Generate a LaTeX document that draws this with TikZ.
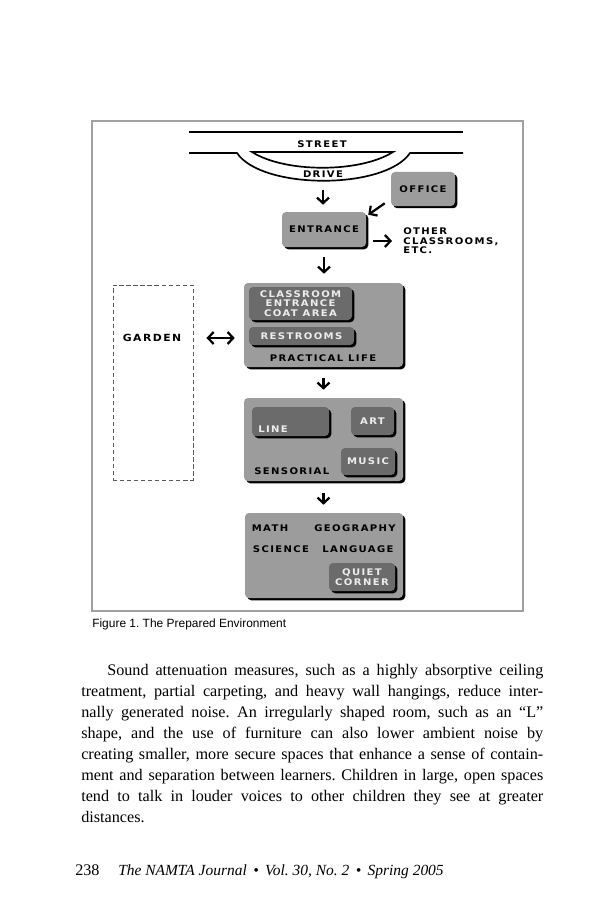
\documentclass[tikz,border=0pt]{standalone}
\usepackage{fontspec}
\usetikzlibrary{arrows.meta,shadows}
\newfontfamily\planfont[LetterSpace=15,FakeStretch=1.1]{DejaVu Sans}
\newfontfamily\capfont{Liberation Sans}
\newfontfamily\bodyfont{Liberation Serif}
\definecolor{roomgray}{HTML}{9C9C9C}
\definecolor{nookgray}{HTML}{6B6B6B}
\definecolor{nooktext}{HTML}{EDEDED}
\definecolor{framegray}{HTML}{A0A0A0}

\tikzset{
	plan/.style={font=\planfont\bfseries\fontsize{6.5pt}{6.8pt}\selectfont, inner sep=0pt, align=center},
	room/.style={plan, fill=roomgray, rounded corners=1mm,
		drop shadow={shadow xshift=1.6pt, shadow yshift=-1.6pt, opacity=1, fill=black}},
	nook/.style={room, fill=nookgray, text=nooktext},
	boxsize/.style 2 args={minimum width=#1*0.25mm, minimum height=#2*0.25mm},
	walk/.style={line width=1.6pt, -{Straight Barb[length=1.4mm, width=3mm]}},
	bothways/.style={line width=1.6pt, {Straight Barb[length=1.4mm, width=3mm]}-{Straight Barb[length=1.4mm, width=3mm]}},
	prose/.style={font=\bodyfont\fontsize{11.5pt}{14pt}\selectfont, anchor=base west, inner sep=0pt},
}

\begin{document}
\frenchspacing
\begin{tikzpicture}[x=0.25mm, y=-0.25mm]
	\fill[white] (0,0) rectangle (600,900);
	\useasboundingbox (0,0) rectangle (600,900);
	\draw[framegray, line width=1pt] (92,121) rectangle (523,611);

	% street and drive
	\draw[line width=1.2pt] (189,132) -- (463,132);
	\draw[line width=1.2pt] (189,153) -- (237,153) .. controls (262,190) and (385,190) .. (410,153) -- (463,153);
	\draw[line width=1.2pt] (252,152) .. controls (285,173) and (360,173) .. (393,152) -- cycle;
	\node[plan] (street) at (322,144) {STREET};
	\node[plan] (drive) at (323,174) {DRIVE};

	\node[room, boxsize={64}{34}] (office) at (423,189) {OFFICE};
	\node[room, boxsize={84}{35}] (entrance) at (324,229.5) {ENTRANCE};
	\node[plan, align=left, anchor=west] (other) at (403,241) {OTHER\\CLASSROOMS,\\ETC.};

	\node[draw=black!65, line width=0.7pt, dash pattern=on 3pt off 2pt, boxsize={80}{195}] (garden) at (153,382.5) {};
	\node[plan, font=\planfont\bfseries\fontsize{7pt}{7pt}\selectfont] (gardenname) at (152,338) {GARDEN};

	\node[room, boxsize={159}{84}] (practical) at (323.5,325) {};
	\node[nook, boxsize={103}{33}] (coat) at (300.5,303.5) {CLASSROOM\\ENTRANCE\\COAT AREA};
	\node[nook, boxsize={105}{18}] (restrooms) at (301.5,336) {RESTROOMS};
	\node[plan] (practicalname) at (323,358) {PRACTICAL LIFE};

	\node[room, boxsize={159}{83}] (sensorial) at (323.5,439.5) {};
	\node[nook, boxsize={77}{29}] (line) at (290.5,421.5) {};
	\node[plan, text=nooktext, anchor=west] (linename) at (258,429) {LINE};
	\node[nook, boxsize={43}{28}] (art) at (372.5,421) {ART};
	\node[nook, boxsize={54}{27}] (music) at (368,461.5) {MUSIC};
	\node[plan, anchor=west] (sensorialname) at (254,471) {SENSORIAL};

	\node[room, boxsize={158}{85}] (academic) at (324,555.5) {};
	\node[plan] (math) at (270,528) {MATH};
	\node[plan] (geography) at (355,528) {GEOGRAPHY};
	\node[plan] (science) at (281,549) {SCIENCE};
	\node[plan] (language) at (358,549) {LANGUAGE};
	\node[nook, boxsize={66}{28}] (quiet) at (362,577) {QUIET\\CORNER};

	\draw[walk, shorten <=3.2mm, shorten >=1.75mm] (drive.south) -- (drive.south |- entrance.north);
	\draw[walk] ([shift={(-6,-3)}]office.south west) -- ([shift={(2,3)}]entrance.north east);
	\draw[walk, shorten <=1.75mm, shorten >=2.75mm] (entrance.east |- other.west) -- (other.west);
	\draw[walk, shorten <=2.5mm, shorten >=2.25mm] (entrance.south) -- (entrance.south |- practical.north);
	\draw[bothways, shorten <=3.25mm, shorten >=2.25mm] (garden.east |- gardenname) -- (practical.west |- gardenname);
	\draw[walk, shorten <=2.75mm, shorten >=2mm] (practical.south) -- (practical.south |- sensorial.north);
	\draw[walk, shorten <=3mm, shorten >=2mm] (sensorial.south) -- (sensorial.south |- academic.north);

	\node[font=\capfont\fontsize{8.5pt}{10pt}\selectfont, anchor=base west, inner sep=0pt] (caption) at (92,627) {Figure 1. The Prepared Environment};

	\node[prose] (row1) at (107,675) {\makebox[109mm][s]{Sound attenuation measures, such as a highly absorptive ceiling}};
	\node[prose] (row2) at (81,696) {\makebox[115.5mm][s]{treatment, partial carpeting, and heavy wall hangings, reduce inter-}};
	\node[prose] (row3) at (81,717) {\makebox[115.5mm][s]{nally generated noise. An irregularly shaped room, such as an “L”}};
	\node[prose] (row4) at (81,738) {\makebox[115.5mm][s]{shape, and the use of furniture can also lower ambient noise by}};
	\node[prose] (row5) at (81,759) {\makebox[115.5mm][s]{creating smaller, more secure spaces that enhance a sense of contain-}};
	\node[prose] (row6) at (81,780) {\makebox[115.5mm][s]{ment and separation between learners. Children in large, open spaces}};
	\node[prose] (row7) at (81,801) {\makebox[115.5mm][s]{tend to talk in louder voices to other children they see at greater}};
	\node[prose] (row8) at (81,822) {distances.};

	\node[prose] (folio) at (75,875) {238};
	\node[prose, font=\bodyfont\itshape\fontsize{11pt}{14pt}\selectfont] (journal) at (118,875) {The NAMTA Journal \,•\, Vol. 30, No. 2 \,•\, Spring 2005};
\end{tikzpicture}
\end{document}
